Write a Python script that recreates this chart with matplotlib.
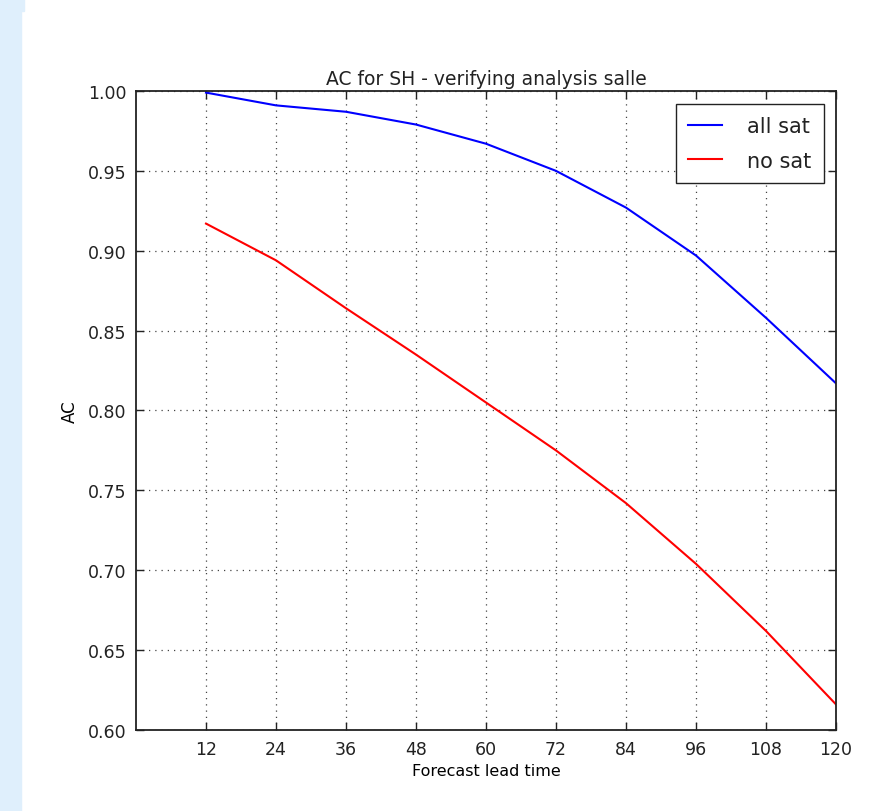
import matplotlib
matplotlib.use("Agg")
import matplotlib.pyplot as plt
from matplotlib.patches import Rectangle

lead = [12, 24, 36, 48, 60, 72, 84, 96, 108, 120]
all_sat = [0.999, 0.991, 0.987, 0.979, 0.967, 0.950, 0.927, 0.897, 0.858, 0.817]
no_sat = [0.917, 0.894, 0.864, 0.835, 0.805, 0.775, 0.742, 0.704, 0.662, 0.616]

plt.rcParams['font.size'] = 12
plt.rcParams['text.color'] = '#222222'
plt.rcParams['xtick.color'] = '#222222'
plt.rcParams['ytick.color'] = '#222222'

fig = plt.figure(figsize=(8.73, 8.12), dpi=100)
# light blue strip down the left edge of the page
fig.patches.append(Rectangle((0, 0), 21 / 873, 1, transform=fig.transFigure,
                             color='#dfeffc', zorder=-1))
fig.patches.append(Rectangle((0, 1 - 12 / 812), 24 / 873, 12 / 812, transform=fig.transFigure,
                             color='#dfeffc', zorder=-1))
ax = fig.add_axes([136 / 873, 81 / 812, 700 / 873, 639 / 812])

ax.plot(lead, all_sat, color='blue', label='all sat')
ax.plot(lead, no_sat, color='red', label='no sat')

ax.set_xlim(0, 120)
ax.set_ylim(0.60, 1.00)
ax.set_xticks(lead)
ax.set_yticks([0.60, 0.65, 0.70, 0.75, 0.80, 0.85, 0.90, 0.95, 1.00])
ax.tick_params(direction='in', length=6, width=1, pad=7, labelsize=12.5)
ax.tick_params(top=True, right=True)
ax.grid(True, color='#444444', linestyle=(0, (1, 4)), linewidth=0.9)
for s in ax.spines.values():
    s.set_linewidth(1.3)
    s.set_color('#222222')

ax.set_title('AC for SH - verifying analysis salle', fontsize=13.5, pad=5)
ax.set_xlabel('Forecast lead time', fontsize=11.5, labelpad=4)
ax.set_ylabel('AC', fontsize=12, labelpad=6)
leg = ax.legend(loc='upper right', fontsize=15, fancybox=False, framealpha=1,
                edgecolor='#222222', handlelength=1.6, handletextpad=1.2,
                borderpad=0.6, labelspacing=0.7, borderaxespad=0.6)
leg.get_frame().set_linewidth(1.0)

fig.savefig('out.png', dpi=100)
